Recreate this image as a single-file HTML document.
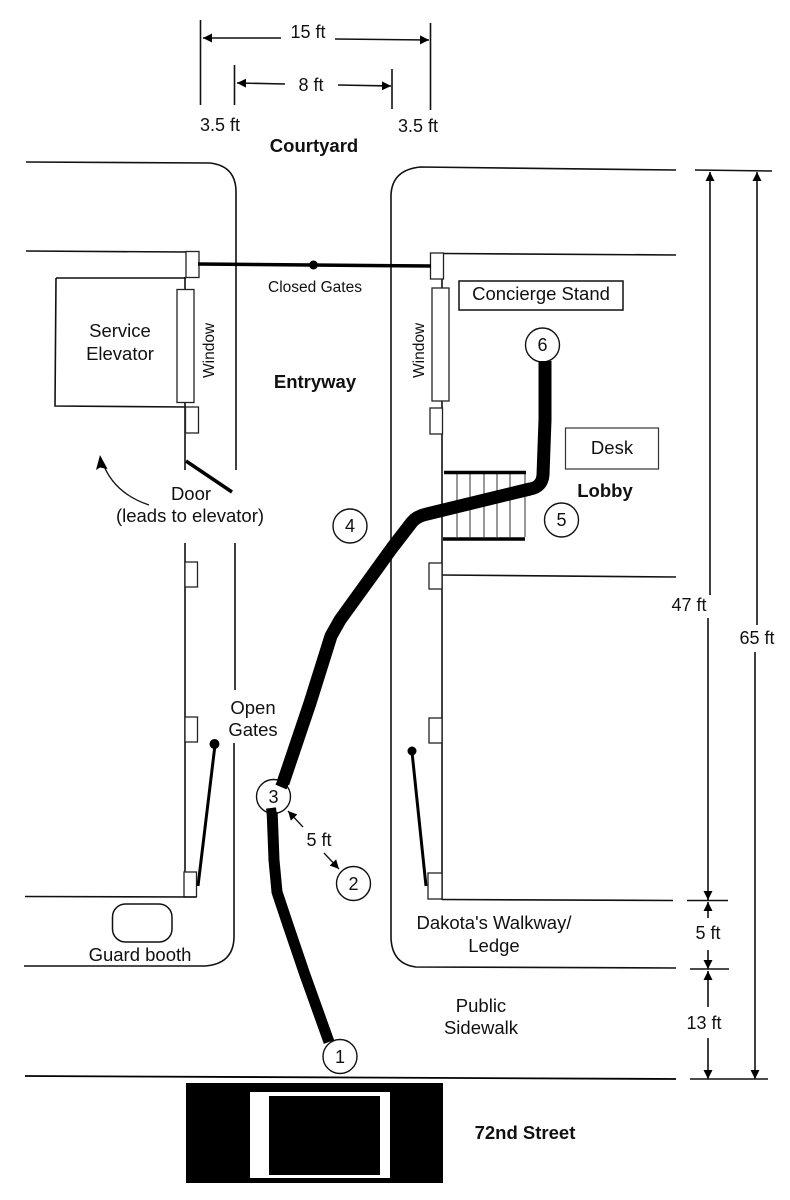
<!DOCTYPE html>
<html>
<head>
<meta charset="utf-8">
<title>Dakota entryway diagram</title>
<style>
html,body{margin:0;padding:0;background:#fff}
svg{display:block}
text{font-family:"Liberation Sans",sans-serif;fill:#111;font-size:18.5px}
.b{font-weight:bold}
.s{font-size:15.5px}
.n{font-size:18px}
.w{fill:#fff;stroke:#222;stroke-width:1.3}
.l{fill:none;stroke:#111;stroke-width:1.6}
.a{fill:none;stroke:#111;stroke-width:1.6;marker-end:url(#ah)}
.c{fill:#fff;stroke:#111;stroke-width:1.4}
.r{fill:none;stroke:#000;stroke-linejoin:round;stroke-linecap:butt}
</style>
</head>
<body>
<svg width="790" height="1200" viewBox="0 0 790 1200" xmlns="http://www.w3.org/2000/svg">
<defs>
<marker id="ah" markerUnits="userSpaceOnUse" markerWidth="10" markerHeight="10" refX="9" refY="5" orient="auto">
<path d="M0 0.5L9 5L0 9.5Z" fill="#000"/>
</marker>
</defs>
<rect width="790" height="1200" fill="#fff"/>

<!-- top dimensions -->
<path class="l" d="M200.500 20V105M430.500 23V110M234.500 65V105M392 69V109"/>
<path class="a" d="M281 38L203 38"/>
<path class="a" d="M335 39L429 40"/>
<path class="a" d="M285 84L237 83"/>
<path class="a" d="M338 85L391 86"/>
<text x="308" y="38" text-anchor="middle" style="font-size:18px">15 ft</text>
<text x="311" y="91" text-anchor="middle" style="font-size:18px">8 ft</text>
<text x="220" y="131" text-anchor="middle" style="font-size:18px">3.5 ft</text>
<text x="418" y="132" text-anchor="middle" style="font-size:18px">3.5 ft</text>
<text x="314" y="152" text-anchor="middle" class="b">Courtyard</text>

<!-- passage walls -->
<path class="l" d="M26 162L210 163Q236 166 236 192V470"/>
<path class="l" d="M235 543V690M234 743V938Q233 964 205 966L24 966"/>
<path class="l" d="M676 170L420 167Q392 170 391 195V938Q392 964 416 967L676 968"/>

<!-- left building -->
<path class="l" d="M26 251L186 252"/>
<path class="l" d="M185 277V470M185 543V897"/>
<path class="l" d="M56 278H186M56 278L55 406L186 407"/>
<rect class="w" x="186" y="251.500" width="13" height="26"/>
<rect class="w" x="177" y="289.500" width="17" height="113"/>
<rect class="w" x="185.500" y="407" width="13" height="26"/>
<rect class="w" x="185" y="562" width="12.500" height="25"/>
<rect class="w" x="185" y="717" width="12.500" height="25"/>
<rect class="w" x="184" y="872" width="12.500" height="25"/>
<path class="l" d="M25 896.500L196 897"/>
<path d="M186 461L232 492" fill="none" stroke="#000" stroke-width="3.500"/>
<path d="M215 745L198 886" fill="none" stroke="#000" stroke-width="3"/>
<circle cx="214.500" cy="744" r="5" fill="#000"/>
<rect x="112.500" y="904" width="59.500" height="38" rx="13" fill="none" stroke="#111" stroke-width="1.500"/>
<path d="M149 505Q113 493 102 461" fill="none" stroke="#111" stroke-width="1.300"/>
<path d="M100 455L107.500 469L100 467.500L96 470Z" fill="#000"/>

<!-- right building -->
<path class="l" d="M442 254V900"/>
<path class="l" d="M443 253.500L676 255M442 575L676 577M442 899.500L673 900.500"/>
<rect class="w" x="430.500" y="253" width="13" height="26"/>
<rect class="w" x="432" y="288" width="17" height="113"/>
<rect class="w" x="430" y="408" width="12.500" height="26"/>
<rect class="w" x="429" y="563" width="13" height="26"/>
<rect class="w" x="429" y="718" width="13" height="25"/>
<rect class="w" x="428" y="873" width="14" height="26"/>
<path d="M412 752L426 886" fill="none" stroke="#000" stroke-width="3"/>
<circle cx="412" cy="751" r="4.500" fill="#000"/>

<!-- closed gates -->
<path d="M198 264L431 266" fill="none" stroke="#000" stroke-width="3.500"/>
<circle cx="313.500" cy="265" r="4.500" fill="#000"/>

<!-- stand, desk -->
<rect x="459" y="281" width="164" height="29" fill="#fff" stroke="#111" stroke-width="1.500"/>
<rect x="565.500" y="428" width="93" height="41" fill="#fff" stroke="#333" stroke-width="1.200"/>

<!-- stairs -->
<path d="M457 474V537M470 474V537M484 474V537M497 474V537M510 474V537M525 474V537" fill="none" stroke="#555" stroke-width="1.200"/>
<path d="M444 472.500H526M443 539H525" fill="none" stroke="#000" stroke-width="3.500"/>

<!-- route -->
<path class="r" stroke-width="13" d="M545 361L545 420L543 475Q542 487 530 489L427 514Q417 516 412 522L392 548L340 620L331 636L310 703L283 783"/>
<path class="r" stroke-width="11" d="M272 808L274 860L277 892L288 925L305 975L329 1042"/>

<!-- circles -->
<circle class="c" cx="542.500" cy="345" r="17"/>
<path class="r" stroke-width="13" d="M545 361V372"/>
<circle class="c" cx="561.500" cy="520" r="17"/>
<circle class="c" cx="350" cy="526" r="17"/>
<circle class="c" cx="353.500" cy="883.500" r="17"/>
<circle class="c" cx="340" cy="1056.500" r="17"/>
<circle cx="273.500" cy="796.500" r="17" fill="none" stroke="#111" stroke-width="1.400"/>
<circle cx="273.500" cy="796.500" r="16" fill="#fff"/>
<path class="r" stroke-width="12" d="M284 780L281 787"/>
<path class="r" stroke-width="10" d="M271 808L272 816"/>
<text x="542.500" y="351" text-anchor="middle" class="n">6</text>
<text x="561.500" y="526" text-anchor="middle" class="n">5</text>
<text x="350" y="532" text-anchor="middle" class="n">4</text>
<text x="273.500" y="803" text-anchor="middle" class="n">3</text>
<text x="353.500" y="890" text-anchor="middle" class="n">2</text>
<text x="340" y="1063" text-anchor="middle" class="n">1</text>

<!-- 5ft diag -->
<path class="a" style="stroke-width:1.300" d="M303 827L288 811"/>
<path class="a" style="stroke-width:1.300" d="M324 853L339 869"/>
<text x="319" y="846" text-anchor="middle" style="font-size:18px">5 ft</text>

<!-- labels -->
<text x="315" y="292" text-anchor="middle" class="s">Closed Gates</text>
<text x="541" y="300" text-anchor="middle">Concierge Stand</text>
<text x="120" y="337" text-anchor="middle">Service</text>
<text x="120" y="360" text-anchor="middle">Elevator</text>
<text class="s" transform="translate(214,378) rotate(-90)">Window</text>
<text class="s" transform="translate(424,378) rotate(-90)">Window</text>
<text x="315" y="388" text-anchor="middle" class="b" style="font-size:18.500px">Entryway</text>
<text x="612" y="454" text-anchor="middle">Desk</text>
<text x="605" y="497" text-anchor="middle" class="b" style="font-size:18.500px">Lobby</text>
<text x="191" y="500" text-anchor="middle">Door</text>
<text x="190" y="522" text-anchor="middle">(leads to elevator)</text>
<text x="253" y="714" text-anchor="middle">Open</text>
<text x="253" y="736" text-anchor="middle">Gates</text>
<text x="140" y="961" text-anchor="middle">Guard booth</text>
<text x="494" y="929" text-anchor="middle">Dakota's Walkway/</text>
<text x="494" y="952" text-anchor="middle">Ledge</text>
<text x="481" y="1012" text-anchor="middle">Public</text>
<text x="481" y="1034" text-anchor="middle">Sidewalk</text>
<text x="525" y="1139" text-anchor="middle" class="b">72nd Street</text>

<!-- right dims -->
<path class="l" d="M695 170L772 171"/>
<path class="l" d="M687 900.500H728M690 969H729M690 1079H768"/>
<path class="a" d="M710 595V172"/>
<path class="a" d="M708 618V900"/>
<path class="a" d="M757 625V172"/>
<path class="a" d="M755 652V1079"/>
<path class="a" d="M708 918V902"/>
<path class="a" d="M708 950V969"/>
<path class="a" d="M708 1007V971"/>
<path class="a" d="M708 1038V1079"/>
<text x="689" y="611" text-anchor="middle" style="font-size:18px">47 ft</text>
<text x="757" y="644" text-anchor="middle" style="font-size:18px">65 ft</text>
<text x="708" y="939" text-anchor="middle" style="font-size:18px">5 ft</text>
<text x="704" y="1029" text-anchor="middle" style="font-size:18px">13 ft</text>

<!-- street -->
<path d="M25 1076L676 1079" fill="none" stroke="#000" stroke-width="1.800"/>
<rect x="186" y="1083" width="257" height="100" fill="#000"/>
<rect x="250" y="1092" width="140" height="86" fill="#fff"/>
<rect x="269" y="1096" width="111" height="79" fill="#000"/>
</svg>
</body>
</html>
